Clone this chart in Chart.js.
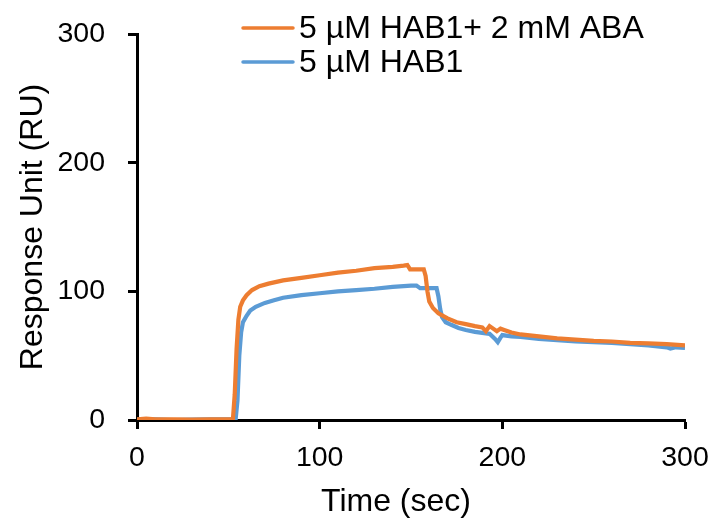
<!DOCTYPE html>
<html>
<head>
<meta charset="utf-8">
<script src="https://cdn.jsdelivr.net/npm/chart.js@4.4.1/dist/chart.umd.min.js"></script>
<style>
  html, body { margin: 0; padding: 0; background: #fff; }
  #wrap { width: 712px; height: 526px; position: relative; }
</style>
</head>
<body>
<div id="wrap"><canvas id="c" width="712" height="526"></canvas></div>
<script>
// ---- data ----
const seriesLabels = ["5 µM HAB1+ 2 mM ABA", "5 µM HAB1"];
const xTitle = "Time (sec)";
const yTitle = "Response Unit (RU)";
const xTicks = [0, 100, 200, 300];
const yTicks = [0, 100, 200, 300];

const abaTime = [0, 5, 10, 20, 30, 40, 50, 52.5, 53.5, 54.5, 55.5, 56.5, 58, 60, 63, 67, 72, 80, 90, 100, 110, 120, 130, 140, 146, 148, 149.5, 157, 158, 159, 160, 162, 165, 170, 175, 180, 185, 189, 191, 193, 195, 197, 199, 201, 205, 210, 220, 230, 240, 250, 260, 270, 280, 290, 300];
const abaRU   = [0.5, 1, 0.5, 0.5, 0.3, 0.5, 0.5, 0.5, 20, 55, 78, 88, 93, 97, 101, 104, 106, 108.5, 110.5, 112.5, 114.5, 116, 118, 119, 120, 120.5, 117, 117, 112, 100, 92, 87, 83, 79, 76, 74.5, 73, 72, 69, 73, 71, 69, 71, 70, 68, 66.5, 65, 63.5, 62.5, 61.5, 61, 60, 59.5, 59, 58];

const hab1Time = [0, 10, 20, 30, 40, 50, 54, 55, 56, 57, 58, 60, 62, 65, 70, 75, 80, 90, 100, 110, 120, 130, 140, 150, 153, 155, 164, 165, 166, 167, 169, 172, 176, 180, 185, 190, 193, 196, 197.5, 199, 200, 205, 210, 220, 230, 240, 250, 260, 270, 280, 290, 292, 295, 300];
const hab1RU   = [0.3, 0.5, 0, 0.3, 0.5, 0.5, 0.5, 15, 50, 68, 76, 81, 85, 88, 91, 93, 95, 97, 98.5, 100, 101, 102, 103.5, 104.5, 104.5, 102.5, 102.5, 96, 86, 80, 76, 74, 71.5, 70, 68.5, 67.5, 67, 63, 60.5, 64, 66, 65, 64.5, 63, 62, 61, 60.5, 60, 59, 58, 56.5, 55.5, 56.5, 56];

const colors = ["#ED7D31", "#5B9BD5"];

const toXY = (xs, ys) => xs.map((x, i) => ({ x: x, y: ys[i] }));

const FONT = '"Liberation Sans", Arial, sans-serif';

const legendPlugin = {
  id: 'manualLegend',
  afterDraw(chart) {
    const ctx = chart.ctx;
    ctx.save();
    chart.data.datasets.forEach((ds, i) => {
      const y = 28 + i * 34;
      ctx.strokeStyle = ds.borderColor;
      ctx.lineWidth = 3.5;
      ctx.lineCap = 'round';
      ctx.beginPath();
      ctx.moveTo(243, y);
      ctx.lineTo(293, y);
      ctx.stroke();
      ctx.fillStyle = '#000';
      ctx.font = '32px ' + FONT;
      ctx.textBaseline = 'middle';
      ctx.textAlign = 'left';
      ctx.fillText(ds.label, 299, y + 1);
    });
    // x-axis title (offset left of the axis centre, as in the reference)
    ctx.fillStyle = '#000';
    ctx.font = '32px ' + FONT;
    ctx.textAlign = 'center';
    ctx.textBaseline = 'alphabetic';
    ctx.fillText(xTitle, 396, 511);
    ctx.restore();
  }
};

new Chart(document.getElementById('c'), {
  type: 'line',
  data: {
    datasets: [
      { label: seriesLabels[0], data: toXY(abaTime, abaRU), borderColor: colors[0], backgroundColor: colors[0], borderWidth: 4.2, pointRadius: 0, tension: 0, fill: false },
      { label: seriesLabels[1], data: toXY(hab1Time, hab1RU), borderColor: colors[1], backgroundColor: colors[1], borderWidth: 4.2, pointRadius: 0, tension: 0, fill: false }
    ]
  },
  options: {
    responsive: false,
    animation: false,
    devicePixelRatio: 1,
    layout: { padding: { top: 34, right: 27, left: 0, bottom: 0 } },
    plugins: { legend: { display: false }, tooltip: { enabled: false } },
    scales: {
      x: {
        type: 'linear', min: 0, max: 300,
        afterBuildTicks: (s) => { s.ticks = xTicks.map(v => ({ value: v })); },
        afterFit: (s) => { s.height = 106; s.paddingLeft = 0; s.paddingRight = 0; },
        grid: { display: true, drawOnChartArea: false, drawTicks: true, tickLength: 9, tickWidth: 3, color: '#000' },
        border: { display: true, color: '#000', width: 3 },
        ticks: { color: '#000', font: { family: FONT, size: 28.5 }, padding: 12, maxRotation: 0 },
        title: { display: false }
      },
      y: {
        type: 'linear', min: 0, max: 300,
        afterBuildTicks: (s) => { s.ticks = yTicks.map(v => ({ value: v })); },
        afterFit: (s) => { s.width = 137; s.paddingTop = 0; s.paddingBottom = 0; },
        grid: { display: true, drawOnChartArea: false, drawTicks: true, tickLength: 9, tickWidth: 3, color: '#000' },
        border: { display: true, color: '#000', width: 3 },
        ticks: { color: '#000', font: { family: FONT, size: 28.5 }, padding: 23 },
        title: { display: true, text: yTitle, color: '#000', font: { family: FONT, size: 32 }, padding: { top: 14, bottom: 0 } }
      }
    }
  },
  plugins: [legendPlugin]
});
</script>
</body>
</html>
